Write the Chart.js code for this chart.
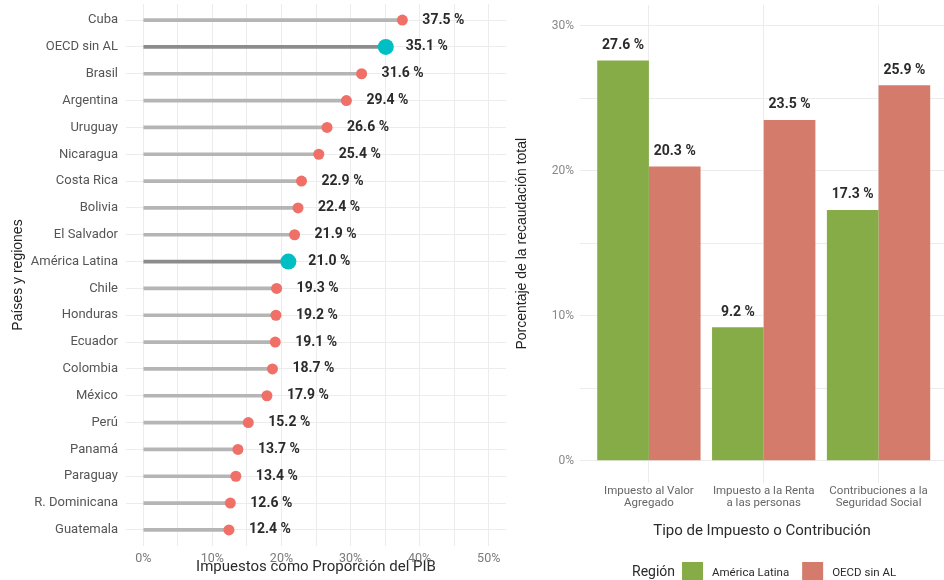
<!DOCTYPE html>
<html><head><meta charset="utf-8">
<script src="https://cdn.jsdelivr.net/npm/chart.js@4/dist/chart.umd.min.js"></script>
<style>
body{margin:0;background:#fff;width:944px;height:580px;overflow:hidden;position:relative}
#c1{position:absolute;left:0;top:0}
#c2{position:absolute;left:500px;top:0}
</style></head><body>
<canvas id="c1" width="506" height="580"></canvas>
<canvas id="c2" width="444" height="580"></canvas>
<script>
// ---- Left chart data ----
const countries = ["Cuba","OECD sin AL","Brasil","Argentina","Uruguay","Nicaragua","Costa Rica","Bolivia","El Salvador","América Latina","Chile","Honduras","Ecuador","Colombia","México","Perú","Panamá","Paraguay","R. Dominicana","Guatemala"];
const taxToGDP = [37.5,35.1,31.6,29.4,26.6,25.4,22.9,22.4,21.9,21.0,19.3,19.2,19.1,18.7,17.9,15.2,13.7,13.4,12.6,12.4];
const highlighted = ["OECD sin AL","América Latina"];
const xTicksLeft = [0,10,20,30,40,50];
const xGridLeft = [0,5,10,15,20,25,30,35,40,45,50];

// ---- Right chart data ----
const taxTypes = [["Impuesto al Valor","Agregado"],["Impuesto a la Renta","a las personas"],["Contribuciones a la","Seguridad Social"]];
const regions = ["América Latina","OECD sin AL"];
const latamShare = [27.6, 9.2, 17.3];
const oecdShare = [20.3, 23.5, 25.9];
const yTicksRight = [0,10,20,30];
const yGridRight = [0,5,10,15,20,25,30];

const FONT = 'Roboto';
const isHi = countries.map(c => highlighted.includes(c));
const rowIdx = countries.map((c,i) => i);

function fixSize(s, size) {
  if (s.isHorizontal()) s.height = size; else s.width = size;
  s.paddingTop = 0; s.paddingBottom = 0; s.paddingLeft = 0; s.paddingRight = 0;
}

const leftLabels = {
  id: 'leftLabels',
  afterDatasetsDraw(chart) {
    const {ctx, scales: {x, y}} = chart;
    ctx.save();
    ctx.font = 'bold 14px ' + FONT;
    ctx.fillStyle = '#2b2b2b';
    ctx.textAlign = 'left';
    ctx.textBaseline = 'middle';
    taxToGDP.forEach((v, i) => {
      ctx.fillText(v.toFixed(1) + ' %', x.getPixelForValue(v) + 20, y.getPixelForValue(i));
    });
    ctx.restore();
  }
};

new Chart(document.getElementById('c1'), {
  type: 'bar',
  data: {
    datasets: [
      {
        type: 'bar', indexAxis: 'y',
        data: taxToGDP.map((v, i) => ({x: v, y: i})),
        backgroundColor: isHi.map(h => h ? '#8c8c8c' : '#b5b5b5'),
        barThickness: 3, order: 2
      },
      {
        type: 'scatter',
        data: taxToGDP.map((v, i) => ({x: v, y: i})),
        backgroundColor: isHi.map(h => h ? '#00bfc4' : '#f07068'),
        borderWidth: 0,
        pointRadius: isHi.map(h => h ? 8 : 5.5),
        order: 1
      }
    ]
  },
  options: {
    responsive: false, animation: false, events: [],
    layout: {autoPadding: false, padding: {top: 4, right: 0, bottom: 0, left: 0}},
    plugins: {legend: {display: false}, tooltip: {enabled: false}},
    scales: {
      x: {
        type: 'linear', position: 'bottom', min: -2.5, max: 52.5, bounds: 'data', offset: false,
        afterBuildTicks: s => { s.ticks = xGridLeft.map(v => ({value: v})); },
        ticks: {
          autoSkip: false, maxRotation: 0, padding: 5,
          callback: v => xTicksLeft.includes(v) ? v + '%' : '',
          color: '#7a7a7a', font: {family: FONT, size: 12.5}
        },
        grid: {color: '#ececec', drawTicks: false, offset: false},
        border: {display: false},
        title: {display: true, text: 'Impuestos como Proporción del PIB', color: '#2b2b2b',
                font: {family: FONT, size: 15}, padding: {top: 0, bottom: 4}},
        afterFit: s => fixSize(s, 34)
      },
      y: {
        type: 'linear', min: -0.6, max: 19.6, reverse: true, bounds: 'data', offset: false,
        afterBuildTicks: s => { s.ticks = rowIdx.map(v => ({value: v})); },
        ticks: {
          autoSkip: false, padding: 8,
          callback: v => countries[v],
          color: '#555', font: {family: FONT, size: 13}
        },
        grid: {color: '#ececec', drawTicks: false, offset: false},
        border: {display: false},
        title: {display: true, text: 'Países y regiones', color: '#222',
                font: {family: 'Liberation Sans', size: 14}, padding: {top: 10, bottom: 0}},
        afterFit: s => fixSize(s, 126)
      }
    }
  },
  plugins: [leftLabels]
});

const barLabels = {
  id: 'barLabels',
  afterDatasetsDraw(chart) {
    const {ctx} = chart;
    ctx.save();
    ctx.font = 'bold 14px ' + FONT;
    ctx.fillStyle = '#2b2b2b';
    ctx.textAlign = 'center';
    ctx.textBaseline = 'middle';
    chart.data.datasets.forEach((ds, di) => {
      const meta = chart.getDatasetMeta(di);
      meta.data.forEach((el, i) => {
        ctx.fillText(ds.data[i].y.toFixed(1) + ' %', el.x, el.y - 15);
      });
    });
    ctx.restore();
  }
};

const regionLegend = {
  id: 'regionLegend',
  afterDraw(chart) {
    const {ctx} = chart;
    ctx.save();
    const cy = 572;
    let x = 132;
    ctx.textBaseline = 'middle';
    ctx.textAlign = 'left';
    ctx.fillStyle = '#2b2b2b';
    ctx.font = '14px ' + FONT;
    ctx.fillText('Región', x, cy);
    x += ctx.measureText('Región').width + 7;
    ctx.font = '11.5px ' + FONT;
    chart.data.datasets.forEach((ds, i) => {
      ctx.fillStyle = ds.backgroundColor;
      ctx.fillRect(x, 562, 21, 18);
      x += 21 + 9;
      ctx.fillStyle = '#2b2b2b';
      ctx.fillText(ds.label, x, cy + 1);
      x += ctx.measureText(ds.label).width + 13;
    });
    ctx.restore();
  }
};

new Chart(document.getElementById('c2'), {
  type: 'bar',
  data: {
    datasets: [
      {label: regions[0], data: latamShare.map((v, i) => ({x: i + 1, y: v})),
       backgroundColor: '#86ac48', categoryPercentage: 0.9, barPercentage: 1},
      {label: regions[1], data: oecdShare.map((v, i) => ({x: i + 1, y: v})),
       backgroundColor: '#d47b6b', categoryPercentage: 0.9, barPercentage: 1}
    ]
  },
  options: {
    responsive: false, animation: false, events: [],
    layout: {autoPadding: false, padding: {top: 5, right: 0, bottom: 28, left: 0}},
    plugins: {legend: {display: false}, tooltip: {enabled: false}},
    scales: {
      x: {
        type: 'linear', min: 0.4, max: 3.57, bounds: 'data', offset: false,
        afterBuildTicks: s => { s.ticks = [1, 2, 3].map(v => ({value: v})); },
        ticks: {
          autoSkip: false, maxRotation: 0, padding: 3,
          callback: v => taxTypes[v - 1],
          color: '#666', font: {family: FONT, size: 11.5, lineHeight: 1.05}
        },
        grid: {color: '#ececec', drawTicks: false, offset: false},
        border: {display: false},
        title: {display: true, text: 'Tipo de Impuesto o Contribución', color: '#2b2b2b',
                font: {family: FONT, size: 15}, padding: {top: 0, bottom: 12}},
        afterFit: s => fixSize(s, 69.5)
      },
      y: {
        type: 'linear', min: -1.5, max: 31.43, bounds: 'data', offset: false,
        afterBuildTicks: s => { s.ticks = yGridRight.map(v => ({value: v})); },
        ticks: {
          autoSkip: false, padding: 6,
          callback: v => yTicksRight.includes(v) ? v + '%' : '',
          color: '#888', font: {family: FONT, size: 12}
        },
        grid: {color: '#ececec', drawTicks: false, offset: false},
        border: {display: false},
        title: {display: true, text: 'Porcentaje de la recaudación total', color: '#222',
                font: {family: 'Liberation Sans', size: 14}, padding: {top: 13.5, bottom: 0}},
        afterFit: s => fixSize(s, 80)
      }
    }
  },
  plugins: [barLabels, regionLegend]
});
</script>
</body></html>
